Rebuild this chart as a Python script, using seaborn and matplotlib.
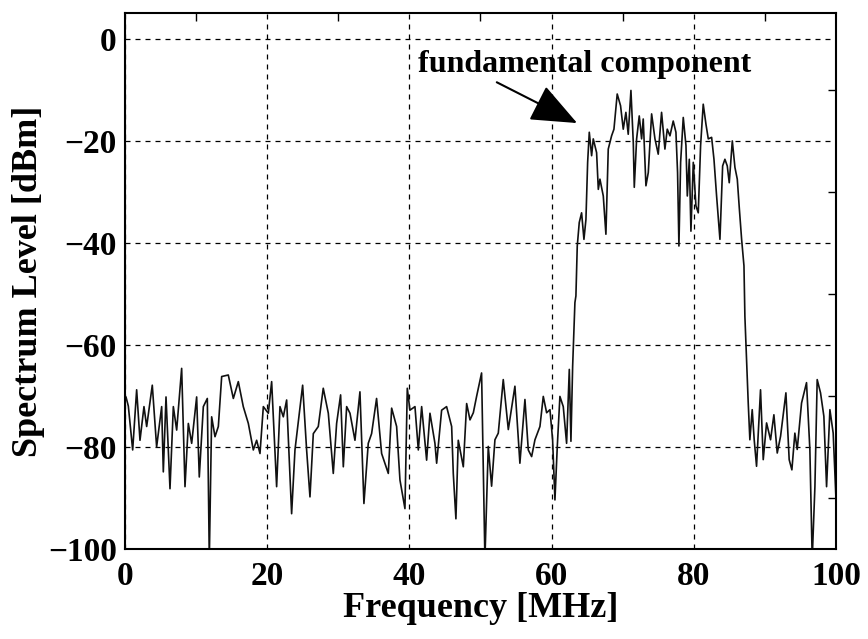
import numpy as np
import pandas as pd
import matplotlib
matplotlib.use("Agg")
import matplotlib.pyplot as plt
import seaborn as sns
from matplotlib.ticker import MultipleLocator

# Spectrum (frequency in MHz, level in dBm)
freq = [
    0.14, 0.47, 1.08, 1.64, 2.11, 2.67, 3.05, 3.84, 4.45, 5.16, 5.39, 5.77, 6.33, 6.80,
    7.27, 7.97, 8.44, 8.91, 9.38, 10.08, 10.45, 11.02, 11.58, 11.86, 12.19, 12.66, 13.13,
    13.60, 14.53, 15.24, 15.94, 16.64, 17.35, 18.05, 18.52, 18.99, 19.46, 20.16, 20.63,
    21.33, 21.80, 22.27, 22.74, 23.44, 23.91, 24.99, 25.55, 26.02, 26.49, 27.19, 27.89,
    28.60, 29.30, 29.77, 30.33, 30.71, 31.18, 31.65, 32.35, 33.05, 33.61, 34.22, 34.69,
    35.39, 36.10, 37.04, 37.51, 38.21, 38.68, 39.38, 39.71, 40.08, 40.79, 41.26, 41.73,
    42.43, 42.90, 43.60, 43.84, 44.54, 45.24, 45.95, 46.18, 46.55, 46.88, 47.59, 48.06,
    48.53, 49.00, 49.46, 50.16, 50.63, 51.10, 51.57, 52.04, 52.51, 53.21, 53.92, 54.85,
    55.55, 56.26, 56.73, 57.20, 57.67, 58.37, 58.84, 59.31, 59.78, 60.15, 60.48, 60.81,
    61.18, 61.65, 62.12, 62.50, 62.73, 62.97, 63.29, 63.43, 63.62, 63.90, 64.23, 64.56,
    64.84, 65.08, 65.31, 65.64, 65.87, 66.34, 66.58, 66.81, 67.28, 67.65, 67.98, 68.45,
    68.78, 69.24, 69.71, 70.09, 70.46, 70.79, 71.17, 71.50, 71.64, 71.97, 72.34, 72.67,
    72.90, 73.28, 73.61, 74.08, 74.55, 75.01, 75.48, 75.95, 76.28, 76.66, 77.12, 77.50,
    77.73, 77.92, 78.16, 78.53, 78.91, 79.10, 79.38, 79.61, 79.94, 80.31, 80.64, 80.97,
    81.34, 81.72, 82.05, 82.52, 82.85, 83.22, 83.69, 84.07, 84.39, 84.72, 85.00, 85.43,
    85.80, 86.13, 86.41, 86.74, 87.07, 87.20, 87.67, 87.90, 88.23, 88.51, 88.84, 89.40,
    89.78, 90.25, 90.81, 91.28, 91.75, 92.22, 92.97, 93.43, 93.81, 94.23, 94.56, 95.17,
    95.87, 96.34, 96.67, 97.05, 97.37, 97.84, 98.31, 98.69, 99.16, 99.62, 100.0,
]
level = [
    -70.2, -72.0, -80.6, -68.8, -78.7, -72.1, -76.0, -67.9, -80.0, -72.1, -84.9, -70.2,
    -88.2, -72.1, -76.7, -64.6, -87.8, -75.4, -79.3, -70.2, -85.9, -72.1, -70.5, -102.0,
    -74.1, -78.0, -76.0, -66.2, -65.9, -70.5, -67.2, -72.1, -75.4, -80.6, -78.7, -81.3,
    -72.1, -73.4, -67.2, -87.8, -72.1, -74.1, -70.8, -93.1, -80.6, -67.9, -80.6, -89.8,
    -77.4, -76.0, -68.5, -73.4, -85.2, -75.4, -69.8, -83.9, -72.1, -73.4, -78.7, -69.2,
    -91.1, -79.3, -77.4, -70.5, -81.3, -85.2, -72.4, -76.0, -86.5, -92.1, -68.5, -72.8,
    -72.1, -80.6, -72.1, -82.6, -73.4, -79.3, -83.2, -72.8, -72.1, -76.0, -85.2, -94.1,
    -78.7, -83.9, -71.5, -74.7, -73.3, -70.1, -65.5, -102.0, -79.9, -87.7, -78.6, -77.3,
    -66.8, -76.6, -68.1, -83.2, -70.7, -80.6, -81.9, -78.6, -76.0, -70.1, -73.3, -72.7,
    -78.6, -90.4, -79.9, -70.1, -72.1, -79.3, -64.8, -78.9, -64.2, -51.7, -50.4, -40.6,
    -36.0, -34.1, -39.3, -35.4, -24.2, -18.3, -22.9, -19.6, -22.3, -29.5, -27.5, -30.8,
    -38.3, -21.6, -19.0, -17.7, -10.8, -13.1, -17.7, -14.4, -18.7, -10.1, -20.3, -29.1,
    -19.6, -15.1, -19.6, -15.7, -28.8, -26.2, -14.7, -19.6, -22.6, -14.4, -21.6, -17.7,
    -19.0, -16.1, -18.3, -26.2, -40.6, -24.2, -15.4, -20.9, -30.8, -23.6, -37.7, -24.2,
    -32.7, -34.1, -20.9, -12.8, -16.7, -19.6, -19.3, -23.6, -30.8, -39.3, -24.9, -23.6,
    -24.9, -28.2, -20.0, -25.2, -27.5, -33.1, -39.3, -44.5, -54.4, -71.4, -78.6, -72.7,
    -78.6, -83.8, -68.8, -82.5, -75.3, -78.6, -73.7, -81.2, -77.9, -69.4, -82.5, -84.5,
    -77.3, -80.5, -71.4, -67.4, -80.5, -102.0, -87.8, -66.8, -69.4, -74.0, -87.8, -72.7,
    -77.3, -89.7,
]

df = pd.DataFrame({"Frequency": freq, "Level": level})

sns.set_style("white")
plt.rcParams["font.family"] = ["Liberation Serif", "DejaVu Serif"]
plt.rcParams["font.weight"] = "bold"
plt.rcParams["text.color"] = "black"
plt.rcParams["axes.labelcolor"] = "black"
plt.rcParams["xtick.color"] = "black"
plt.rcParams["ytick.color"] = "black"

fig = plt.figure(figsize=(8.68, 6.39), dpi=100)
ax = fig.add_axes([0.144, 0.141, 0.819, 0.838])

sns.lineplot(data=df, x="Frequency", y="Level", estimator=None, sort=False,
             color="#111111", linewidth=1.2, ax=ax)

ax.set_xlim(0, 100)
ax.set_ylim(-100, 5)
ax.xaxis.set_major_locator(MultipleLocator(20))
ax.xaxis.set_minor_locator(MultipleLocator(10))
ax.yaxis.set_major_locator(MultipleLocator(20))
ax.yaxis.set_minor_locator(MultipleLocator(10))
ax.grid(True, which="major", color="black", linestyle=(0, (4, 4)), linewidth=0.9)
ax.tick_params(which="both", direction="in", top=True, right=True)
ax.tick_params(which="major", length=0, labelsize=24)
ax.tick_params(axis="x", which="major", pad=9)
ax.tick_params(axis="y", which="major", pad=6)
ax.tick_params(which="minor", length=6, width=1)
for lab in ax.get_xticklabels() + ax.get_yticklabels():
    lab.set_fontweight("bold")
for sp in ax.spines.values():
    sp.set_color("black")
    sp.set_linewidth(1.5)

ax.set_xlabel("Frequency [MHz]", fontsize=26, fontweight="bold", labelpad=0)
ax.set_ylabel("Spectrum Level [dBm]", fontsize=26, fontweight="bold", labelpad=2)

ax.text(41.2, -6.5, "fundamental component", fontsize=23, fontweight="bold",
        ha="left", va="baseline")
ax.annotate("", xy=(63.6, -16.5), xytext=(52.3, -8.5),
            arrowprops=dict(arrowstyle="-|>,head_length=1.45,head_width=0.6",
                            color="black", lw=1.5, mutation_scale=20,
                            shrinkA=0, shrinkB=0))

fig.savefig("out.png", dpi=100)
